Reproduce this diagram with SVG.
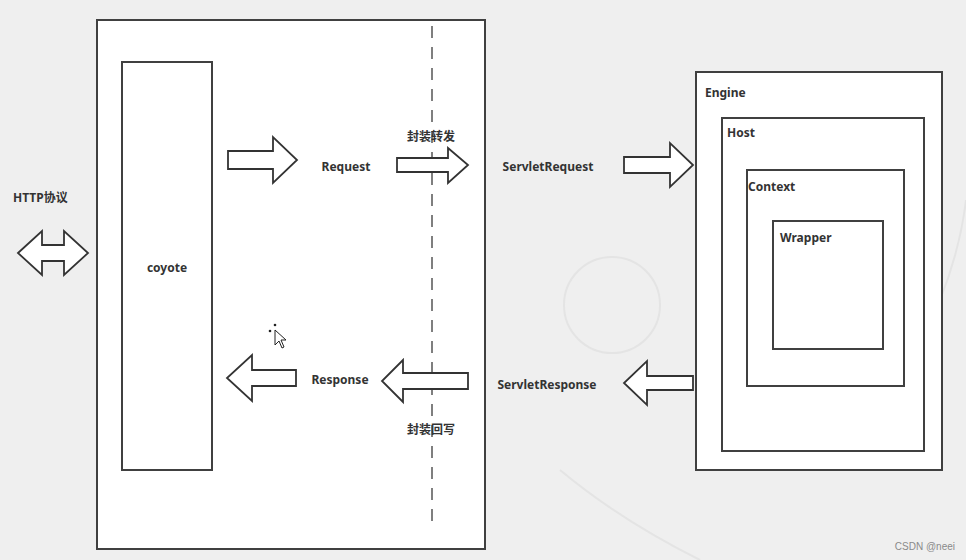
<svg xmlns="http://www.w3.org/2000/svg" width="966" height="560" viewBox="0 0 966 560">
<style>
.box{fill:#ffffff;stroke:#404040;stroke-width:2}
.inner{fill:none;stroke:#404040;stroke-width:2}
.arr{fill:#ffffff;stroke:#333333;stroke-width:1.8;stroke-linejoin:miter}
.lbl{font-family:"Noto Sans","Noto Sans CJK SC",sans-serif;font-weight:bold;font-size:12px;fill:#333333}
.mid{text-anchor:middle}
</style>
<rect x="0" y="0" width="966" height="560" fill="#efefef"/>
<g id="bg-deco" fill="none" stroke="#e4e4e4" stroke-width="2">
<circle cx="612" cy="305" r="48"/>
<path d="M560 470 Q 620 520 700 560"/>
<path d="M940 300 Q 960 250 966 200"/>
</g>
<g id="tomcat">
<rect class="box" x="97" y="20" width="388" height="529"/>
<line x1="432" y1="26" x2="432" y2="530" stroke="#555" stroke-width="1.5" stroke-dasharray="12,9"/>
</g>
<g id="coyote">
<rect class="box" x="122" y="62" width="90" height="408"/>
<text class="lbl mid" x="167" y="272">coyote</text>
</g>
<g id="engine">
<rect class="box" x="696" y="72" width="246" height="398"/>
<text class="lbl" x="705" y="97">Engine</text>
</g>
<g id="host">
<rect class="inner" x="722" y="118" width="202" height="333"/>
<text class="lbl" x="727" y="137">Host</text>
</g>
<g id="context">
<rect class="inner" x="747" y="170" width="157" height="216"/>
<text class="lbl" x="748" y="191">Context</text>
</g>
<g id="wrapper">
<rect class="inner" x="773" y="221" width="110" height="128"/>
<text class="lbl" x="780" y="242">Wrapper</text>
</g>
<g id="connectors">
<polygon class="arr" points="18,253 42,231 42,245 64,245 64,231 88,253 64,275 64,261 42,261 42,275"/>
<polygon class="arr" points="228,151 273,151 273,137 297,160 273,183 273,169 228,169"/>
<polygon class="arr" points="397,158 448,158 448,148 468,165 448,183 448,172 397,172"/>
<polygon class="arr" points="624,157 670,157 670,143 693,165 670,187 670,173 624,173"/>
<polygon class="arr" points="296,370 252,370 252,355 227,378 252,401 252,386 296,386"/>
<polygon class="arr" points="468,373 403,373 403,360 382,381 403,402 403,389 468,389"/>
<polygon class="arr" points="693,376 647,376 647,361 624,383 647,405 647,390 693,390"/>
</g>
<g id="labels">
<text class="lbl" x="13" y="202">HTTP协议</text>
<text class="lbl mid" x="346" y="171">Request</text>
<text class="lbl mid" x="431" y="141">封装转发</text>
<text class="lbl mid" x="548" y="171">ServletRequest</text>
<text class="lbl mid" x="340" y="384">Response</text>
<text class="lbl mid" x="431" y="434">封装回写</text>
<text class="lbl mid" x="547" y="389">ServletResponse</text>
</g>
<g id="cursor">
<path d="M275 330 L275 345 L279 341 L282 348 L284 347 L281 340 L286 340 Z" fill="#fff" stroke="#222" stroke-width="1"/>
<circle cx="275" cy="325" r="1.3" fill="#222"/>
<circle cx="270" cy="331" r="1.3" fill="#222"/>
</g>
<text x="955" y="550" text-anchor="end" font-family="Liberation Sans, sans-serif" font-size="10" fill="#8a8a8a">CSDN @neei</text>
</svg>
